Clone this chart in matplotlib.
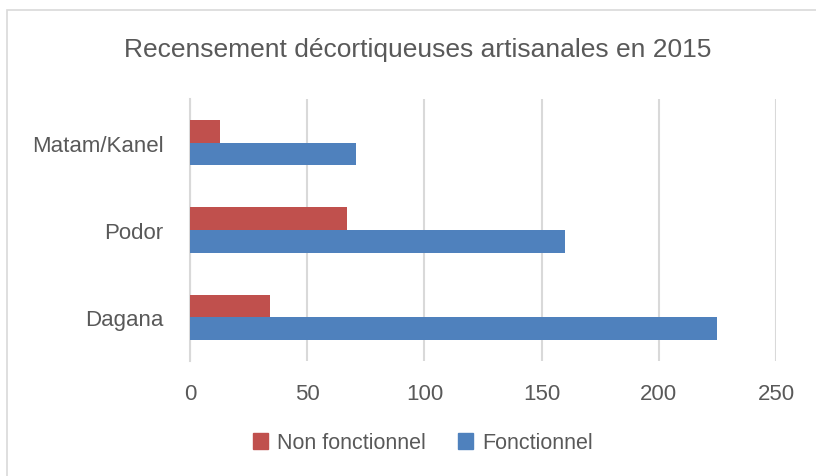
import matplotlib
matplotlib.use("Agg")
import matplotlib.pyplot as plt
from matplotlib.patches import Rectangle, Patch
import numpy as np

categories = ["Dagana", "Podor", "Matam/Kanel"]
non_fonctionnel = [34, 67, 13]
fonctionnel = [225, 160, 71]
series_names = ["Non fonctionnel", "Fonctionnel"]
x_ticks = [0, 50, 100, 150, 200, 250]
title = "Recensement décortiqueuses artisanales en 2015"

W, H = 816, 477
fig = plt.figure(figsize=(W / 100, H / 100), dpi=100)
plt.rcParams['font.family'] = ['Liberation Sans', 'DejaVu Sans']
txt = "#595959"

# outer frame
fig.patches.append(Rectangle((7 / W, -0.2), 1.2, 1.2 - 11 / H, transform=fig.transFigure,
                             fill=False, edgecolor="#D9D9D9", linewidth=1.2))

ax = fig.add_axes([190 / W, 1 - 362 / H, (776 - 190) / W, (362 - 100) / H])
y = np.arange(len(categories))
h = 0.26
red = "#C0504D"
blue = "#4F81BD"
ax.barh(y + h / 2, non_fonctionnel, height=h, color=red, zorder=3)
ax.barh(y - h / 2, fonctionnel, height=h, color=blue, zorder=3)

ax.set_xlim(0, 250)
ax.set_ylim(-0.5, 2.5)
ax.set_xticks(x_ticks)
ax.set_xticklabels([str(v) for v in x_ticks])
ax.set_yticks(y)
ax.set_yticklabels(categories)
ax.tick_params(length=0, labelsize=16, colors=txt)
ax.tick_params(axis='x', pad=16)
ax.tick_params(axis='y', pad=19)
ax.xaxis.grid(True, color="#D9D9D9", linewidth=1.5, zorder=0)
for s in ["top", "right", "bottom"]:
    ax.spines[s].set_visible(False)
ax.spines["left"].set_color("#D9D9D9")
ax.spines["left"].set_linewidth(1.5)

fig.text(418 / W, 1 - 50 / H, title, ha="center", va="center", fontsize=19, color=txt)

handles = [Patch(color=red), Patch(color=blue)]
fig.legend(handles, series_names, loc="center", bbox_to_anchor=(423 / W, 1 - 444 / H),
           ncol=2, frameon=False, fontsize=15.5, labelcolor=txt,
           handlelength=0.7, handleheight=0.7, handletextpad=0.4, columnspacing=1.5)

fig.savefig("out.png", dpi=100)
